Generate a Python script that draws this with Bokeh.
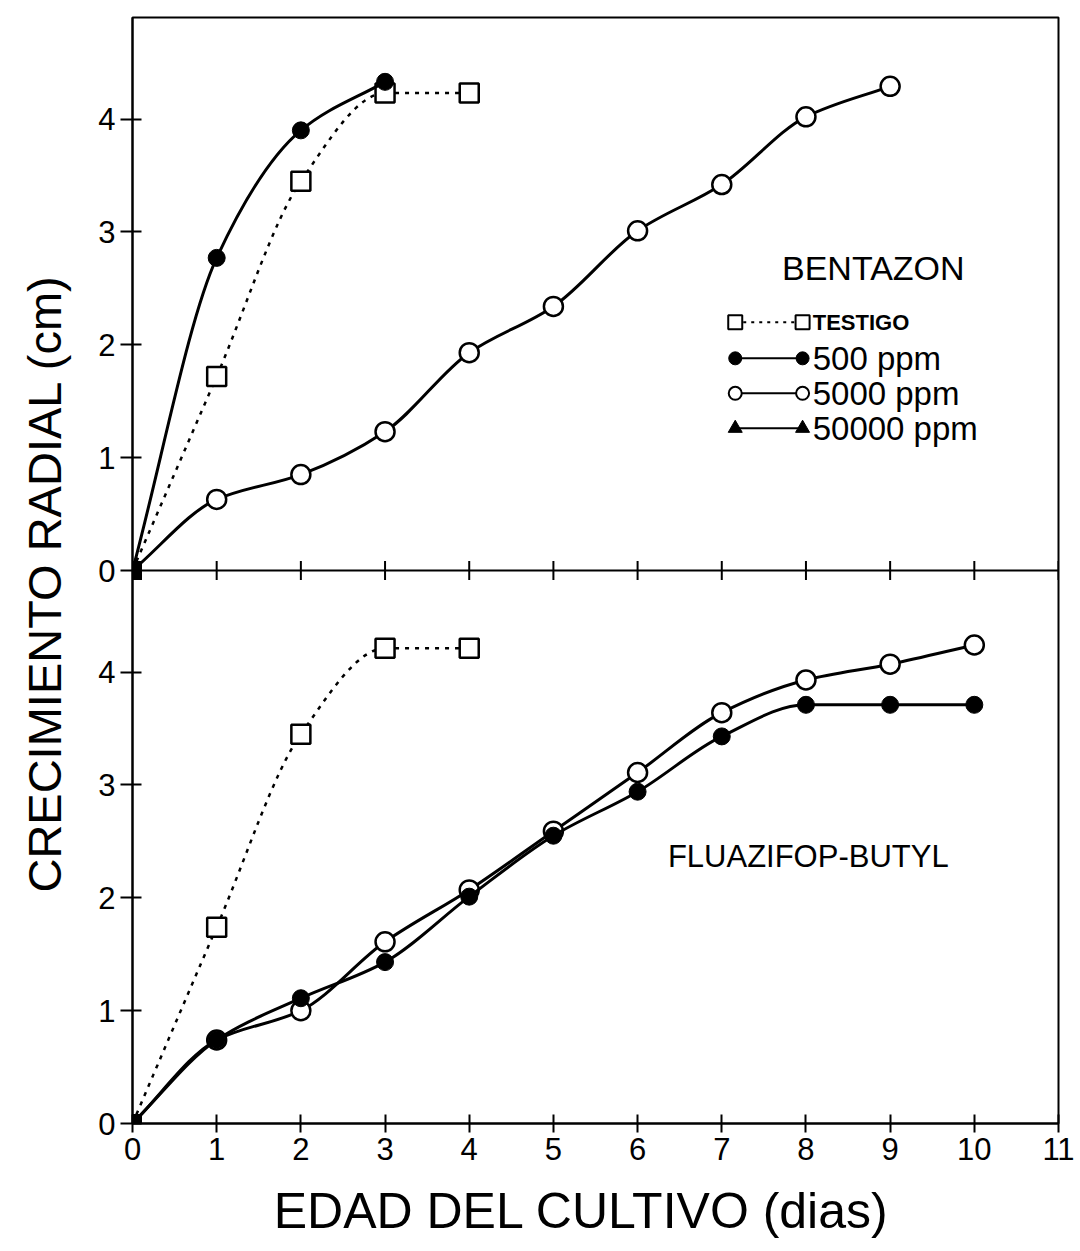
import numpy as np
from bokeh.plotting import figure
from bokeh.models import Range1d, FixedTicker, Span
from bokeh.core.properties import value
from bokeh.embed import file_html
from bokeh.resources import INLINE

# ---------------- data ----------------
X_TICKS = list(range(0, 12))
Y_TICKS = [0, 1, 2, 3, 4]
Y_TICK_LABELS = ["0", "1", "2", "3", "4"]

# BENTAZON (upper panel)
bent_testigo_x = [0, 1, 2, 3, 4]
bent_testigo_y = [0, 1.72, 3.45, 4.23, 4.23]
bent_500_x = [0, 1, 2, 3]
bent_500_y = [0, 2.77, 3.90, 4.33]
bent_5000_x = [0, 1, 2, 3, 4, 5, 6, 7, 8, 9]
bent_5000_y = [0, 0.63, 0.85, 1.23, 1.93, 2.34, 3.01, 3.42, 4.02, 4.29]

# FLUAZIFOP-BUTYL (lower panel)
flu_testigo_x = [0, 1, 2, 3, 4]
flu_testigo_y = [0, 1.74, 3.45, 4.21, 4.21]
flu_500_x = [0, 1, 2, 3, 4, 5, 6, 7, 8, 9, 10]
flu_500_y = [0, 0.74, 1.11, 1.43, 2.01, 2.55, 2.94, 3.43, 3.71, 3.71, 3.71]
flu_5000_x = [0, 1, 2, 3, 4, 5, 6, 7, 8, 9, 10]
flu_5000_y = [0, 0.74, 1.00, 1.61, 2.07, 2.59, 3.11, 3.64, 3.93, 4.07, 4.24]

origin_x = [0]
origin_y = [0]

legend_labels = ["TESTIGO", "500 ppm", "5000 ppm", "50000 ppm"]
panel_titles = ["BENTAZON", "FLUAZIFOP-BUTYL"]

# ---------------- layout constants ----------------
PANEL = 4.9          # height of one panel in data units
FONT = "Liberation Sans"

p = figure(width=1080, height=1251,
           x_range=Range1d(0, 11), y_range=Range1d(0, 2 * PANEL),
           min_border_left=132, min_border_right=22,
           min_border_top=17, min_border_bottom=128,
           toolbar_location=None, output_backend="svg")
p.extra_y_ranges = {"top": Range1d(-PANEL, PANEL)}
p.xgrid.visible = False
p.ygrid.visible = False
p.outline_line_color = "black"
p.outline_line_width = 2
p.background_fill_color = "white"
p.border_fill_color = "white"

# x axis
xa = p.xaxis[0]
xa.ticker = FixedTicker(ticks=X_TICKS)
xa.major_tick_in = 9
xa.major_tick_out = 9
xa.minor_tick_line_color = None
xa.axis_line_width = 2
xa.major_tick_line_width = 2
xa.major_label_text_font = FONT
xa.major_label_text_font_size = "31px"
xa.major_label_text_color = "black"
xa.major_label_standoff = 5
xa.axis_label = "EDAD DEL CULTIVO   (dias)"
xa.axis_label_text_font = FONT
xa.axis_label_text_font_size = "50px"
xa.axis_label_text_font_style = "normal"
xa.axis_label_text_color = "black"
xa.axis_label_standoff = 20

# y axis (ticks for both panels)
ya = p.yaxis[0]
all_ticks = list(Y_TICKS) + [t + PANEL for t in Y_TICKS]
ya.ticker = FixedTicker(ticks=all_ticks)
overrides = {}
for t, lab in zip(Y_TICKS, Y_TICK_LABELS):
    overrides[t] = lab
    overrides[t + PANEL] = lab
ya.major_label_overrides = overrides
ya.major_tick_in = 9
ya.major_tick_out = 12
ya.minor_tick_line_color = None
ya.axis_line_width = 2
ya.major_tick_line_width = 2
ya.major_label_text_font = FONT
ya.major_label_text_font_size = "31px"
ya.major_label_text_color = "black"
ya.major_label_standoff = 5
ya.axis_label = "CRECIMIENTO RADIAL   (cm)"
ya.axis_label_text_font = FONT
ya.axis_label_text_font_size = "47px"
ya.axis_label_text_font_style = "normal"
ya.axis_label_text_color = "black"
ya.axis_label_standoff = 24

# middle separating line with crossing ticks
p.add_layout(Span(location=0, dimension="width", y_range_name="top",
                  line_color="black", line_width=2))
p.scatter(x=X_TICKS[1:], y=[0] * len(X_TICKS[1:]), marker="dash", angle=np.pi / 2,
          size=19, line_color="black", line_width=2, y_range_name="top")


def smooth(x, y):
    """Monotone cubic Bezier control points through the data points."""
    x = np.asarray(x, float)
    y = np.asarray(y, float)
    n = len(x)
    h = np.diff(x)
    d = np.diff(y) / h
    m = np.zeros(n)
    m[0] = d[0]
    m[-1] = d[-1]
    for i in range(1, n - 1):
        if d[i - 1] * d[i] <= 0:
            m[i] = 0.0
        else:
            h0, h1 = h[i - 1], h[i]
            m[i] = 3 * (h0 + h1) / ((2 * h1 + h0) / d[i - 1] + (h1 + 2 * h0) / d[i])
    return dict(x0=x[:-1], y0=y[:-1], x1=x[1:], y1=y[1:],
                cx0=x[:-1] + h / 3, cy0=y[:-1] + m[:-1] * h / 3,
                cx1=x[1:] - h / 3, cy1=y[1:] - m[1:] * h / 3)


def series(x, y, kind, rng):
    kw = {} if rng is None else {"y_range_name": rng}
    if kind == "testigo":
        p.bezier(**smooth(x, y), line_color="black", line_width=2.5,
                 line_dash="4 6", **kw)
        p.scatter(x[1:], y[1:], marker="square", size=19, fill_color="white",
                  line_color="black", line_width=2.5, **kw)
    elif kind == "500":
        p.bezier(**smooth(x, y), line_color="black", line_width=3, **kw)
        p.scatter(x[1:], y[1:], marker="circle", size=17, fill_color="black",
                  line_color="black", **kw)
    elif kind == "5000":
        p.bezier(**smooth(x, y), line_color="black", line_width=3, **kw)
        p.scatter(x[1:], y[1:], marker="circle", size=19, fill_color="white",
                  line_color="black", line_width=2.5, **kw)
    p.scatter(origin_x, origin_y, marker="square", size=18, fill_color="black",
              line_color="black", **kw)


# upper panel
series(bent_testigo_x, bent_testigo_y, "testigo", "top")
series(bent_5000_x, bent_5000_y, "5000", "top")
series(bent_500_x, bent_500_y, "500", "top")
# lower panel
series(flu_testigo_x, flu_testigo_y, "testigo", None)
series(flu_5000_x, flu_5000_y, "5000", None)
series(flu_500_x, flu_500_y, "500", None)

# panel titles
p.text(x=[8.80], y=[2.68], text=[panel_titles[0]], text_font=value(FONT),
       text_font_size="34px", text_align="center", text_baseline="middle",
       text_color="black", y_range_name="top")
p.text(x=[6.36], y=[2.37], text=[panel_titles[1]], text_font=value(FONT),
       text_font_size="31px", text_align="left", text_baseline="middle",
       text_color="black")

# hand-drawn legend (upper panel)
LX0, LX1, LTX = 7.16, 7.96, 8.08
LROWS = [2.20, 1.88, 1.57, 1.26]
p.segment(x0=[LX0], y0=[LROWS[0]], x1=[LX1], y1=[LROWS[0]], line_color="black",
          line_width=2, line_dash="3 5", y_range_name="top")
p.segment(x0=[LX0] * 3, y0=LROWS[1:], x1=[LX1] * 3, y1=LROWS[1:], line_color="black",
          line_width=2, y_range_name="top")
p.scatter([LX0, LX1], [LROWS[0]] * 2, marker="square", size=14, fill_color="white",
          line_color="black", line_width=2, y_range_name="top")
p.scatter([LX0, LX1], [LROWS[1]] * 2, marker="circle", size=13, fill_color="black",
          line_color="black", y_range_name="top")
p.scatter([LX0, LX1], [LROWS[2]] * 2, marker="circle", size=13, fill_color="white",
          line_color="black", line_width=2, y_range_name="top")
p.scatter([LX0, LX1], [LROWS[3]] * 2, marker="triangle", size=14, fill_color="black",
          line_color="black", y_range_name="top")
p.text(x=[LTX], y=[LROWS[0]], text=[legend_labels[0]], text_font=value(FONT),
       text_font_size="22px", text_font_style="bold", text_align="left",
       text_baseline="middle", text_color="black", y_range_name="top")
p.text(x=[LTX] * 3, y=LROWS[1:], text=legend_labels[1:], text_font=value(FONT),
       text_font_size="33px", text_align="left", text_baseline="middle",
       text_color="black", y_range_name="top")

open("out.html", "w").write(file_html(p, INLINE))
